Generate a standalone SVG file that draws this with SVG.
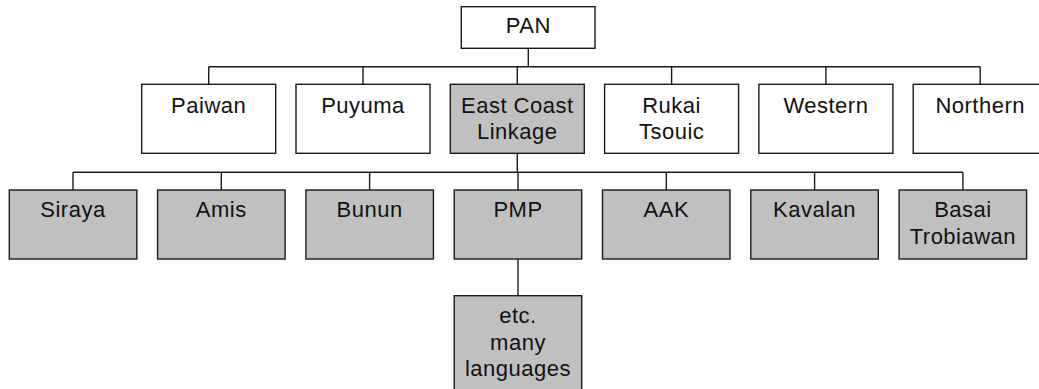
<svg xmlns="http://www.w3.org/2000/svg" width="1039" height="389" viewBox="0 0 1039 389">
<style>
.box{fill:#ffffff;stroke:#1a1a1a;stroke-width:1.4}
.g{fill:#c0c0c0}
.t{font-family:"Liberation Sans",Arial,sans-serif;font-size:22px;letter-spacing:0.5px;fill:#111;text-anchor:middle}
.c{fill:none;stroke:#1a1a1a;stroke-width:1.4}
</style>
<rect width="1039" height="389" fill="#ffffff"/>
<g id="connectors" class="c">
<line x1="528.3" y1="48.3" x2="528.3" y2="66.7"/>
<line x1="208.7" y1="66.7" x2="980.2" y2="66.7"/>
<line x1="208.7" y1="66.7" x2="208.7" y2="84.3"/>
<line x1="363" y1="66.7" x2="363" y2="84.3"/>
<line x1="517.3" y1="66.7" x2="517.3" y2="84.3"/>
<line x1="671.6" y1="66.7" x2="671.6" y2="84.3"/>
<line x1="825.9" y1="66.7" x2="825.9" y2="84.3"/>
<line x1="980.2" y1="66.7" x2="980.2" y2="84.3"/>
<line x1="517.3" y1="153.3" x2="517.3" y2="172.3"/>
<line x1="73" y1="172.3" x2="962.9" y2="172.3"/>
<line x1="73" y1="172.3" x2="73" y2="190"/>
<line x1="221.3" y1="172.3" x2="221.3" y2="190"/>
<line x1="369.6" y1="172.3" x2="369.6" y2="190"/>
<line x1="518" y1="172.3" x2="518" y2="190"/>
<line x1="666.3" y1="172.3" x2="666.3" y2="190"/>
<line x1="814.6" y1="172.3" x2="814.6" y2="190"/>
<line x1="962.9" y1="172.3" x2="962.9" y2="190"/>
<line x1="518" y1="259" x2="518" y2="295.7"/>
</g>
<g id="pan"><rect class="box" x="461.3" y="6.7" width="133.7" height="41.6"/><text class="t" x="528.3" y="33.3">PAN</text></g>
<g id="paiwan"><rect class="box" x="141.7" y="84.3" width="134" height="69"/><text class="t" x="208.7" y="113">Paiwan</text></g>
<g id="puyuma"><rect class="box" x="296" y="84.3" width="134" height="69"/><text class="t" x="363" y="113">Puyuma</text></g>
<g id="eastcoast"><rect class="box g" x="450.3" y="84.3" width="134" height="69"/><text class="t" x="517.3" y="113">East Coast</text><text class="t" x="517.3" y="139.3">Linkage</text></g>
<g id="rukai"><rect class="box" x="604.6" y="84.3" width="134" height="69"/><text class="t" x="671.6" y="113">Rukai</text><text class="t" x="671.6" y="139.3">Tsouic</text></g>
<g id="western"><rect class="box" x="758.9" y="84.3" width="134" height="69"/><text class="t" x="825.9" y="113">Western</text></g>
<g id="northern"><rect class="box" x="913.2" y="84.3" width="134" height="69"/><text class="t" x="980.2" y="113">Northern</text></g>
<g id="siraya"><rect class="box g" x="9.3" y="190" width="127.5" height="69"/><text class="t" x="73" y="217">Siraya</text></g>
<g id="amis"><rect class="box g" x="157.6" y="190" width="127.5" height="69"/><text class="t" x="221.3" y="217">Amis</text></g>
<g id="bunun"><rect class="box g" x="305.9" y="190" width="127.5" height="69"/><text class="t" x="369.6" y="217">Bunun</text></g>
<g id="pmp"><rect class="box g" x="454.2" y="190" width="127.5" height="69"/><text class="t" x="518" y="217">PMP</text></g>
<g id="aak"><rect class="box g" x="602.5" y="190" width="127.5" height="69"/><text class="t" x="666.3" y="217">AAK</text></g>
<g id="kavalan"><rect class="box g" x="750.8" y="190" width="127.5" height="69"/><text class="t" x="814.6" y="217">Kavalan</text></g>
<g id="basai"><rect class="box g" x="899.1" y="190" width="127.5" height="69"/><text class="t" x="962.9" y="217.3">Basai</text><text class="t" x="962.9" y="243.5">Trobiawan</text></g>
<g id="etc"><rect class="box g" x="454.2" y="295.7" width="127.5" height="100"/><text class="t" x="518" y="323.3">etc.</text><text class="t" x="518" y="350">many</text><text class="t" x="518" y="376.3">languages</text></g>
</svg>
